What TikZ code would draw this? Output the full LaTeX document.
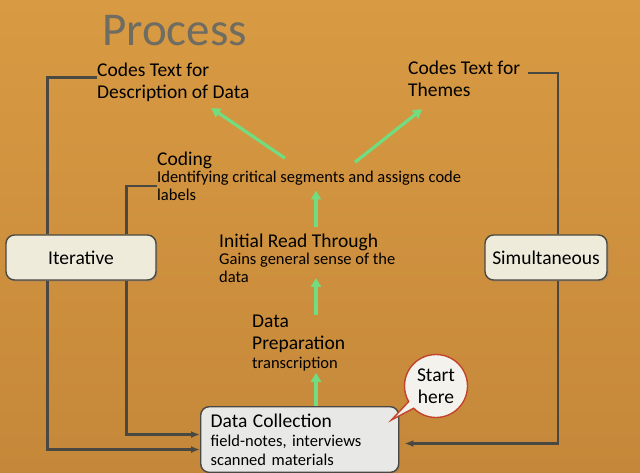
\documentclass[tikz,border=0pt]{standalone}
\usepackage{fontspec}
\setmainfont{Carlito}
\usetikzlibrary{arrows.meta,positioning,shapes.callouts,shadows}
\definecolor{Ochre}{HTML}{D89A42}
\definecolor{DarkOchre}{HTML}{C5883A}
\definecolor{Slate}{HTML}{6F6C62}
\definecolor{Ink}{HTML}{4A4843}
\definecolor{Mint}{HTML}{72DD80}
\definecolor{Cream}{HTML}{EEEBDB}
\definecolor{PaleGrey}{HTML}{E8E8E6}
\definecolor{Brick}{HTML}{C3432B}
\definecolor{Bubble}{HTML}{F4F2ED}

\begin{document}
\begin{tikzpicture}[x=1pt,y=-1pt,
  head/.style={font=\fontsize{19.5}{22}\selectfont,align=left,inner sep=0pt},
  sub/.style={font=\fontsize{16.5}{17.5}\selectfont,align=left,inner sep=0pt},
  mbox/.style={draw=Ink,line width=1.4pt,rounded corners=3mm,fill=Cream,
    font=\fontsize{19.5}{22}\selectfont,minimum height=45pt,
    drop shadow={shadow xshift=1.5pt,shadow yshift=-1.5pt,opacity=.4}},
  link/.style={draw=Ink,line width=2.4pt},
  larr/.style={link,-{Latex[length=9pt,width=7pt]}},
  flow/.style={draw=Mint,line width=3.2pt,-{Triangle[length=9pt,width=10pt]}}
]
  \clip (0,0) rectangle (640,472);
  \shade[top color=Ochre,bottom color=DarkOchre] (0,0) rectangle (640,472);

  % Title
  \node[font=\fontsize{47}{50}\selectfont,text=Slate,anchor=base west,inner sep=0pt] (title) at (102,45) {Process};

  % Outputs
  \node[head,anchor=north west] (desc) at (97,63) {Codes Text for\\Description of Data};
  \node[head,anchor=north west] (themes) at (408,61) {Codes Text for\\Themes};

  % Steps
  \node[head,anchor=base west] (coding) at (157,165) {Coding};
  \node[sub,anchor=north west] (codingtxt) at (157,171) {Identifying critical segments and assigns code\\labels};
  \node[head,anchor=base west] (read) at (219,247) {Initial Read Through};
  \node[sub,anchor=north west,font=\fontsize{16.5}{18}\selectfont] (readtxt) at (219,253) {Gains general sense of the\\data};
  \node[head,anchor=north west] (prep) at (252,315) {Data\\Preparation};
  \node[sub,anchor=base west] (preptxt) at (252,368) {transcription};

  % Side boxes
  \node[mbox,minimum width=150pt] (iter) at (81,257.5) {Iterative};
  \node[mbox,minimum width=122pt] (simul) at (546,257.5) {Simultaneous};

  % Data collection
  \node[mbox,fill=PaleGrey,anchor=north west,text width=178pt,align=left,inner xsep=10pt,
    inner ysep=7pt,font=\fontsize{16.5}{19}\selectfont] (dc) at (200,406)
    {{\fontsize{19.5}{22}\selectfont Data Collection}\\field-notes, interviews\\scanned materials};
  \node[ellipse callout,draw=Brick,line width=1.4pt,fill=Bubble,minimum width=63pt,
    minimum height=63pt,inner sep=0pt,align=center,font=\fontsize{19.5}{22}\selectfont,
    callout absolute pointer={([shift={(-8,14)}]dc.north east)}] (start) at (436,386) {Start\\here};

  % Loops
  \draw[link] ([yshift=5pt]desc.west) -| ([xshift=42pt]iter.north west);
  \draw[link] (codingtxt.west) -| ([xshift=121pt]iter.north west);
  \draw[larr] ([xshift=42pt]iter.south west) |- ([yshift=-10pt]dc.west);
  \draw[larr] ([xshift=121pt]iter.south west) |- ([yshift=5pt]dc.west);
  \draw[link] ([shift={(8,-6)}]themes.east) -| ([xshift=12pt]simul.north);
  \draw[larr,shorten >=5pt] ([xshift=12pt]simul.south) |- ([yshift=-4pt]dc.east);

  % Flow
  \coordinate (spine) at (316,0);
  \draw[flow,shorten >=2pt] (dc.north -| spine) -- (preptxt.south -| spine);
  \draw[flow,shorten >=-5pt] (prep.north -| spine) -- (readtxt.south -| spine);
  \draw[flow,shorten <=6pt,shorten >=-10pt] (read.north -| spine) -- (codingtxt.south -| spine);
  \draw[flow] ([shift={(128,7)}]coding.north west) -- ([shift={(38,6)}]desc.south);
  \draw[flow] ([shift={(198,11)}]coding.north west) -- ([shift={(-42,12)}]themes.south);
\end{tikzpicture}
\end{document}
